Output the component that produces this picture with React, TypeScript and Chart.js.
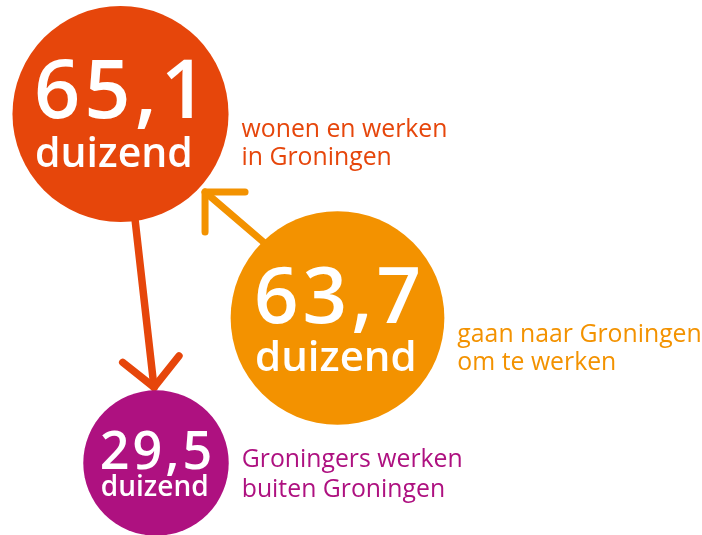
import React, { useEffect, useRef } from "react";
import { Chart, registerables } from "chart.js";

Chart.register(...registerables);

// ---- data ----
const VALUES = [65.1, 63.7, 29.5];
const VALUE_LABELS = ["65,1", "63,7", "29,5"];
const UNIT = "duizend";
const CATEGORY_LINES = [
  ["wonen en werken", "in Groningen"],
  ["gaan naar Groningen", "om te werken"],
  ["Groningers werken", "buiten Groningen"],
];
const COLORS = ["#E6460B", "#F39200", "#AE1180"];

// ---- layout (positions in chart units = px) ----
const W = 702;
const H = 535;
const CENTERS = [
  { x: 120.5, y: 114 },
  { x: 337.5, y: 318 },
  { x: 156, y: 463 },
];
const RADIUS_K = 13.39; // radius = K * sqrt(value) (area ∝ value)
const NUM_SIZE = [81, 78, 52];
const NUM_SPACING = [4, 4, 3];
const UNIT_SIZE = [41, 42, 28];
const NUM_DY = [4, 5, 6];
const UNIT_DY = [53, 53, 33];
const LABEL_DX = 13;
const LABEL_DY = [23, 24, 4];
const LABEL_GAP = [28, 28, 30];
const LABEL_SIZE = 24.8;
const FONT = '"Open Sans", "Noto Sans", sans-serif';

const ARROWS = [
  { from: 0, to: 2, fromAngle: 82, toAngle: -91.5, gap: 3, color: COLORS[0], width: 7.5, head: null as number | null },
  { from: 1, to: 0, fromAngle: -133.7, toAngle: 42.7, gap: 7, color: COLORS[1], width: 7, head: 45 as number | null },
];
const HEAD_LEN = 40;

const radiusOf = (v: number) => RADIUS_K * Math.sqrt(v);

const overlayPlugin = {
  id: "overlay",
  beforeDatasetsDraw(chart: any) {
    const ctx = chart.ctx;
    const xs = chart.scales.x;
    const ys = chart.scales.y;
    const px = (i: number) => xs.getPixelForValue(CENTERS[i].x);
    const py = (i: number) => ys.getPixelForValue(CENTERS[i].y);
    ctx.save();
    ctx.lineCap = "round";
    ctx.lineJoin = "round";
    for (const a of ARROWS) {
      const rf = radiusOf(VALUES[a.from]);
      const rt = radiusOf(VALUES[a.to]);
      const fa = (a.fromAngle * Math.PI) / 180;
      const ta = (a.toAngle * Math.PI) / 180;
      const sx = px(a.from) + (rf - 12) * Math.cos(fa);
      const sy = py(a.from) + (rf - 12) * Math.sin(fa);
      const tx = px(a.to) + (rt + a.gap) * Math.cos(ta);
      const ty = py(a.to) + (rt + a.gap) * Math.sin(ta);
      const back = a.head !== null ? (a.head * Math.PI) / 180 : Math.atan2(sy - ty, sx - tx);
      ctx.strokeStyle = a.color;
      ctx.lineWidth = a.width;
      ctx.beginPath();
      ctx.moveTo(sx, sy);
      ctx.lineTo(tx, ty);
      ctx.stroke();
      const a1 = back + Math.PI / 4;
      const a2 = back - Math.PI / 4;
      ctx.beginPath();
      ctx.moveTo(tx + HEAD_LEN * Math.cos(a1), ty + HEAD_LEN * Math.sin(a1));
      ctx.lineTo(tx, ty);
      ctx.lineTo(tx + HEAD_LEN * Math.cos(a2), ty + HEAD_LEN * Math.sin(a2));
      ctx.stroke();
    }
    ctx.restore();
  },
  afterDatasetsDraw(chart: any) {
    const ctx = chart.ctx;
    const xs = chart.scales.x;
    const ys = chart.scales.y;
    ctx.save();
    ctx.textBaseline = "alphabetic";
    ctx.textAlign = "left";
    VALUES.forEach((v, i) => {
      const cx = xs.getPixelForValue(CENTERS[i].x);
      const cy = ys.getPixelForValue(CENTERS[i].y);
      const r = radiusOf(v);
      ctx.fillStyle = "#ffffff";
      ctx.font = `600 ${NUM_SIZE[i]}px ${FONT}`;
      (ctx as any).letterSpacing = `${NUM_SPACING[i]}px`;
      const w = ctx.measureText(VALUE_LABELS[i]).width - NUM_SPACING[i];
      const left = cx - w / 2;
      ctx.fillText(VALUE_LABELS[i], left, cy + NUM_DY[i]);
      (ctx as any).letterSpacing = "0px";
      ctx.font = `600 ${UNIT_SIZE[i]}px ${FONT}`;
      ctx.fillText(UNIT, left + 1, cy + UNIT_DY[i]);
      ctx.fillStyle = COLORS[i];
      ctx.font = `400 ${LABEL_SIZE}px ${FONT}`;
      CATEGORY_LINES[i].forEach((line, j) => {
        ctx.fillText(line, cx + r + LABEL_DX, cy + LABEL_DY[i] + j * LABEL_GAP[i]);
      });
    });
    ctx.restore();
  },
};

export default function App() {
  const ref = useRef<HTMLCanvasElement | null>(null);
  useEffect(() => {
    document.body.style.margin = "0";
    const canvas = ref.current;
    if (!canvas) return;
    const chart = new Chart(canvas, {
      type: "bubble",
      data: {
        datasets: [
          {
            label: "Groningen",
            data: VALUES.map((v, i) => ({ x: CENTERS[i].x, y: CENTERS[i].y, r: radiusOf(v) })),
            backgroundColor: COLORS,
            borderWidth: 0,
            hoverBorderWidth: 0,
            clip: false,
          },
        ],
      },
      options: {
        responsive: false,
        animation: false,
        devicePixelRatio: 1,
        layout: { padding: 0, autoPadding: false },
        events: [],
        scales: {
          x: { type: "linear", min: 0, max: W, display: false },
          y: { type: "linear", min: 0, max: H, reverse: true, display: false },
        },
        plugins: {
          legend: { display: false },
          tooltip: { enabled: false },
        },
      },
      plugins: [overlayPlugin],
    });
    return () => chart.destroy();
  }, []);
  return (
    <div style={{ width: W, height: H, background: "#ffffff" }}>
      <canvas ref={ref} width={W} height={H} style={{ display: "block", width: W, height: H }} />
    </div>
  );
}
